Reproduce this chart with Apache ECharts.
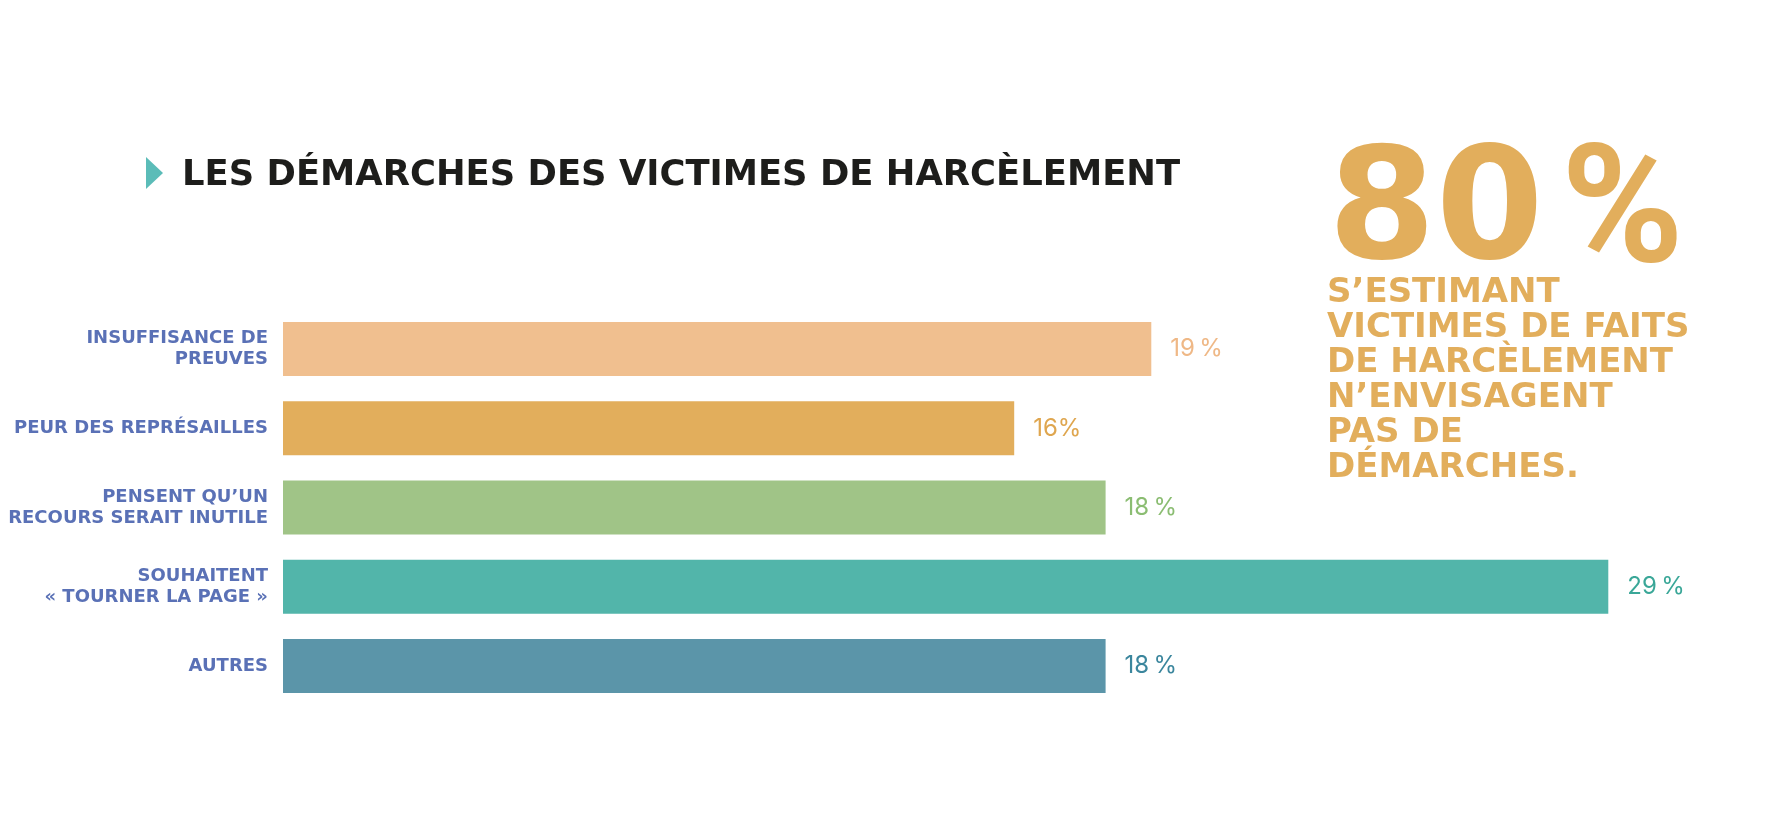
<!DOCTYPE html>
<html><head><meta charset="utf-8">
<script src="https://cdn.jsdelivr.net/npm/echarts@6/dist/echarts.min.js"></script>
<style>html,body{margin:0;padding:0;background:#fff}#c{width:1772px;height:821px}</style>
</head><body><div id="c"></div>
<script>
const categories = ['INSUFFISANCE DE\nPREUVES','PEUR DES REPRÉSAILLES','PENSENT QU’UN\nRECOURS SERAIT INUTILE','SOUHAITENT\n« TOURNER LA PAGE »','AUTRES'];
const values = [19, 16, 18, 29, 18];
const valueLabels = ['19\u2009%','16%','18\u2009%','29\u2009%','18\u2009%'];
const barColors = ['#f0bf8f','#e2ae5c','#a0c487','#52b5aa','#5b95a9'];
const labelColors = ['#efb886','#dfa64f','#8bbd72','#3aa798','#3b869d'];
const title = 'LES DÉMARCHES DES VICTIMES DE HARCÈLEMENT';
const bigNumber = ['80', '%'];
const sideText = ['S’ESTIMANT','VICTIMES DE FAITS','DE HARCÈLEMENT','N’ENVISAGENT','PAS DE','DÉMARCHES.'];

const chart = echarts.init(document.getElementById('c'));
const rich = {};
labelColors.forEach((c,i)=>{ rich['v'+i] = {color:c, fontSize:24, fontFamily:'Inter', fontWeight:400}; });
chart.setOption({
  animation:false,
  grid:{left:283, top:309.5, width:1371, height:396, containLabel:false},
  xAxis:{type:'value', min:0, max:30, show:false},
  yAxis:{type:'category', data:categories, inverse:true,
    axisLine:{show:false}, axisTick:{show:false},
    axisLabel:{margin:15, color:'#5a71b6', fontFamily:'DejaVu Sans', fontWeight:700, fontSize:18, lineHeight:21, align:'right'}},
  series:[{type:'bar', barWidth:54,
    data: values.map((v,i)=>({value:v, itemStyle:{color:barColors[i]}})),
    label:{show:true, position:'right', distance:19,
      formatter:(p)=>'{v'+p.dataIndex+'|'+valueLabels[p.dataIndex]+'}', rich:rich}
  }],
  graphic:[
    {type:'polygon', shape:{points:[[146,157],[163,173],[146,189]]}, style:{fill:'#5bbcb8'}},
    {type:'text', left:182, top:158, style:{text:title, fontFamily:'DejaVu Sans', fontWeight:700, fontSize:35.4, fill:'#1d1d1b'}},
    {type:'text', left:1328, top:140, style:{text:bigNumber[0], fontFamily:'DejaVu Sans', fontWeight:700, fontSize:155, fill:'#e2ae5c'}},
    {type:'text', left:1561, top:136, style:{text:bigNumber[1], fontFamily:'Roboto', fontWeight:700, fontSize:166, fill:'#e2ae5c'}},
    {type:'text', left:1327, top:276, style:{text:sideText.join('\n'), fontFamily:'DejaVu Sans', fontWeight:700, fontSize:34, lineHeight:35, fill:'#e2ae5c'}}
  ]
});
</script></body></html>
